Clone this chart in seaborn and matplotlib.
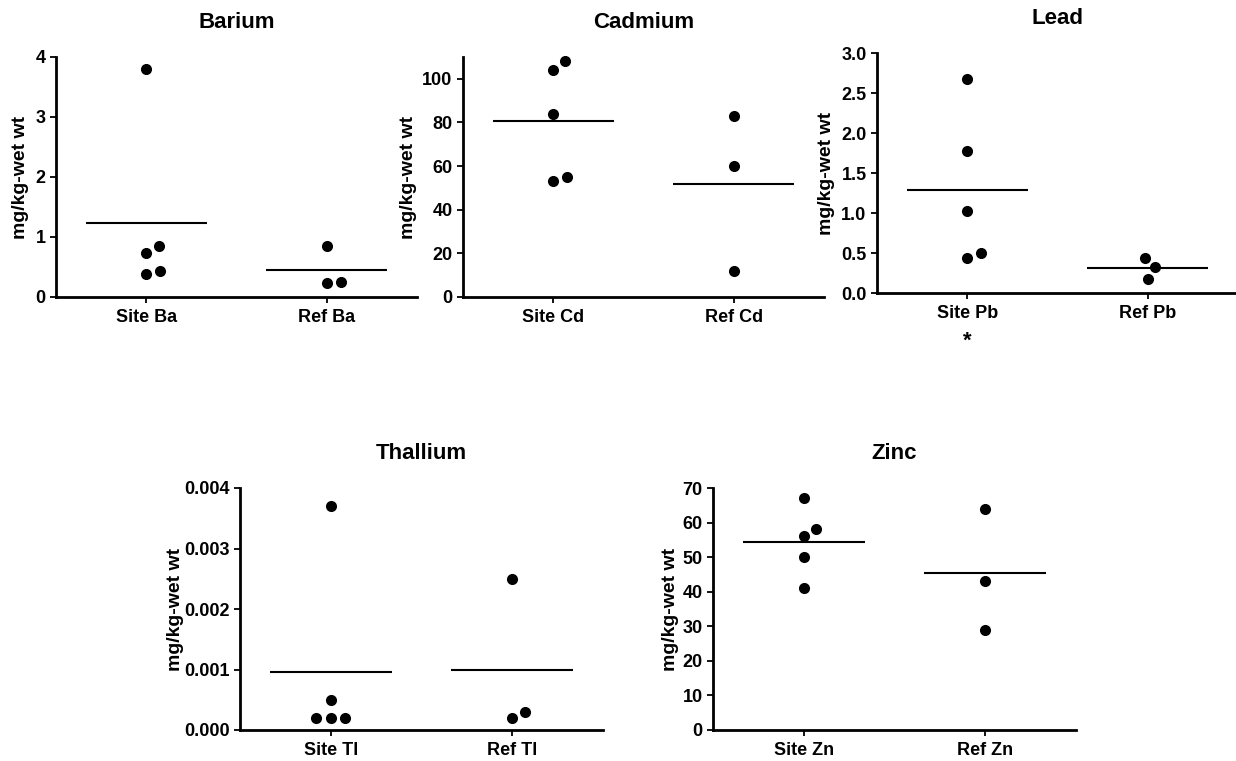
import numpy as np
import pandas as pd
import matplotlib
matplotlib.use('Agg')
import matplotlib.pyplot as plt
from matplotlib.ticker import FormatStrFormatter
import seaborn as sns

# Values (mg/kg-wet wt)
ba_site = [3.8, 0.85, 0.73, 0.38, 0.43]
ba_ref = [0.85, 0.23, 0.25]
cd_site = [104, 108, 84, 53, 55]
cd_ref = [83, 60, 12]
pb_site = [2.68, 1.77, 1.03, 0.44, 0.50]
pb_ref = [0.44, 0.32, 0.17]
tl_site = [0.0037, 0.0005, 0.0002, 0.0002, 0.0002]
tl_ref = [0.0025, 0.0002, 0.0003]
zn_site = [67, 58, 56, 50, 41]
zn_ref = [64, 43, 29]

titles = ['Barium', 'Cadmium', 'Lead', 'Thallium', 'Zinc']
group_labels = [['Site Ba', 'Ref Ba'], ['Site Cd', 'Ref Cd'], ['Site Pb', 'Ref Pb'],
                ['Site Tl', 'Ref Tl'], ['Site Zn', 'Ref Zn']]
y_ticks = [np.arange(0, 5, 1), np.arange(0, 101, 20), np.arange(0, 3.01, 0.5),
           np.arange(0, 0.00401, 0.001), np.arange(0, 71, 10)]
y_tops = [4, 110, 3.0, 0.004, 70]
tick_fmt = ['%d', '%d', '%.1f', '%.3f', '%d']
ylabel = 'mg/kg-wet wt'

sns.set_style('ticks')
plt.rcParams['font.family'] = ['Liberation Sans', 'DejaVu Sans']
plt.rcParams['font.weight'] = 'bold'
plt.rcParams['text.color'] = 'black'
plt.rcParams['axes.labelcolor'] = 'black'
plt.rcParams['xtick.color'] = 'black'
plt.rcParams['ytick.color'] = 'black'

W, H = 1236, 761
fig = plt.figure(figsize=(W / 100, H / 100), dpi=100)

# panel boxes in pixels: left, top, right, bottom
boxes = [(56, 57, 417, 297), (463, 57, 824, 297), (877, 53, 1238, 293),
         (240, 488, 603, 730), (713, 488, 1076, 730)]
# right edge of the y label, pixels left of the axis
ylab_off = [27, 46, 42, 56, 34]

data = [(ba_site, ba_ref), (cd_site, cd_ref), (pb_site, pb_ref),
        (tl_site, tl_ref), (zn_site, zn_ref)]

axes = []
for i, (site, ref) in enumerate(data):
    l, t, r, b = boxes[i]
    ax = fig.add_axes([l / W, (H - b) / H, (r - l) / W, (b - t) / H])
    axes.append(ax)
    labels = group_labels[i]
    df = pd.DataFrame({
        'group': [labels[0]] * len(site) + [labels[1]] * len(ref),
        'value': site + ref,
    })

    # mean line only
    sns.boxplot(data=df, x='group', y='value', ax=ax, width=0.67,
                showmeans=True, meanline=True, showfliers=False,
                boxprops={'visible': False}, whiskerprops={'visible': False},
                capprops={'visible': False}, medianprops={'visible': False},
                meanprops={'color': 'black', 'linestyle': '-', 'linewidth': 1.5})
    sns.swarmplot(data=df, x='group', y='value', ax=ax, color='black',
                  size=8, linewidth=2, edgecolor=(1, 1, 1, 0), zorder=3,
                  clip_on=False)

    ax.set_xlim(-0.5, 1.5)
    ax.set_ylim(0, y_tops[i])
    ax.set_yticks(y_ticks[i])
    ax.yaxis.set_major_formatter(FormatStrFormatter(tick_fmt[i]))
    ax.set_xlabel('')
    ax.set_ylabel(ylabel, fontsize=14, fontweight='bold')
    ax.yaxis.set_label_coords(-ylab_off[i] / (r - l), 0.5)
    ax.set_title(titles[i], fontsize=16, fontweight='bold', pad=21)

    sns.despine(ax=ax)
    for side in ['left', 'bottom']:
        ax.spines[side].set_linewidth(2)
        ax.spines[side].set_color('black')
    ax.tick_params(axis='both', direction='out', length=4.5, width=1.3,
                   color='black', labelsize=13)
    ax.tick_params(axis='y', pad=3)
    ax.tick_params(axis='x', pad=4)
    for lab in ax.get_xticklabels() + ax.get_yticklabels():
        lab.set_fontweight('bold')
    ax.patch.set_visible(False)

    if titles[i] == 'Lead':
        ax.text(0, -0.2, '*', transform=ax.get_xaxis_transform(), ha='center',
                va='center', fontsize=16, fontweight='bold')

# seaborn's swarm puts the first dodge to the left; the original (Prism) goes right,
# so lay the swarms out once and mirror them about the category centre
fig.canvas.draw()
for ax in axes:
    for pts in ax.collections:
        if 'draw' in vars(pts):
            del pts.draw
            xy = np.asarray(pts.get_offsets()).copy()
            xy[:, 0] = 2 * np.round(xy[:, 0]) - xy[:, 0]
            pts.set_offsets(xy)
            pts.set_clip_on(False)

fig.savefig('out.png', dpi=100)
